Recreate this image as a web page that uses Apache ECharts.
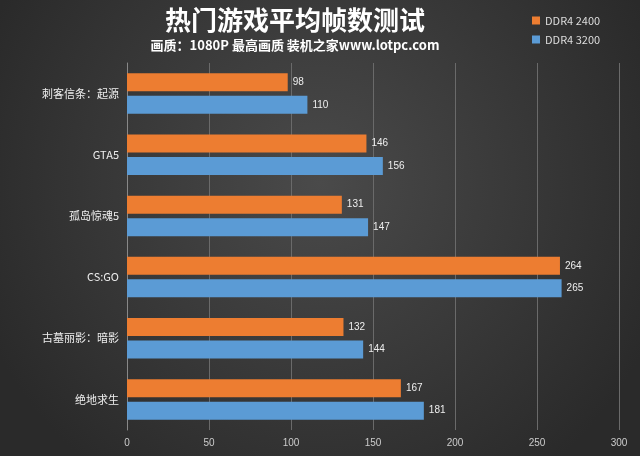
<!DOCTYPE html>
<html><head><meta charset="utf-8">
<script src="https://cdn.jsdelivr.net/npm/echarts@6/dist/echarts.min.js"></script>
<style>html,body{margin:0;padding:0}#main{width:640px;height:456px}</style>
</head><body><div id="main"></div>
<script>
const games = ['刺客信条：起源', 'GTA5', '孤岛惊魂5', 'CS:GO', '古墓丽影：暗影', '绝地求生']
const ddr2400 = [98, 146, 131, 264, 132, 167]
const ddr3200 = [110, 156, 147, 265, 144, 181]
const xTicks = [0, 300, 50]

const chart = echarts.init(document.getElementById('main'))
const font = '"Noto Sans CJK SC", "Noto Sans", sans-serif'
chart.setOption({
  backgroundColor: {
    type: 'radial', x: 0.5, y: 0.4, r: 0.8,
    colorStops: [{ offset: 0, color: '#4a4a4a' }, { offset: 1, color: '#2a2a2a' }]
  },
  title: {
    text: '热门游戏平均帧数测试',
    subtext: '画质：1080P 最高画质 装机之家www.lotpc.com',
    left: 290, top: 2, textAlign: 'center', itemGap: 6,
    textStyle: { color: '#fff', fontSize: 26, fontWeight: 'bold', fontFamily: font },
    subtextStyle: { color: '#fff', fontSize: 13, fontWeight: 'bold', fontFamily: font }
  },
  legend: {
    data: ['DDR4 2400', 'DDR4 3200'], orient: 'vertical', left: 527, top: 10,
    itemWidth: 8, itemHeight: 8, itemGap: 8, icon: 'rect',
    textStyle: { color: '#ddd', fontSize: 11, fontFamily: font }
  },
  grid: { left: 127, right: 21, top: 63, bottom: 26, containLabel: false },
  xAxis: {
    type: 'value', min: xTicks[0], max: xTicks[1], interval: xTicks[2],
    axisLabel: { color: '#ccc', fontSize: 10 },
    splitLine: { lineStyle: { color: '#6a6a6a' } },
    axisLine: { show: false }
  },
  yAxis: {
    type: 'category', data: games, inverse: true,
    axisLabel: { color: '#eee', fontSize: 11, fontFamily: font },
    axisTick: { show: false },
    axisLine: { lineStyle: { color: '#888' } }
  },
  series: [
    { name: 'DDR4 2400', type: 'bar', data: ddr2400, barWidth: 18, barGap: '25%',
      itemStyle: { color: '#ed7d31' },
      label: { show: true, position: 'right', color: '#eee', fontSize: 10 } },
    { name: 'DDR4 3200', type: 'bar', data: ddr3200, barWidth: 18,
      itemStyle: { color: '#5b9bd5' },
      label: { show: true, position: 'right', color: '#eee', fontSize: 10 } }
  ]
})
</script></body></html>
